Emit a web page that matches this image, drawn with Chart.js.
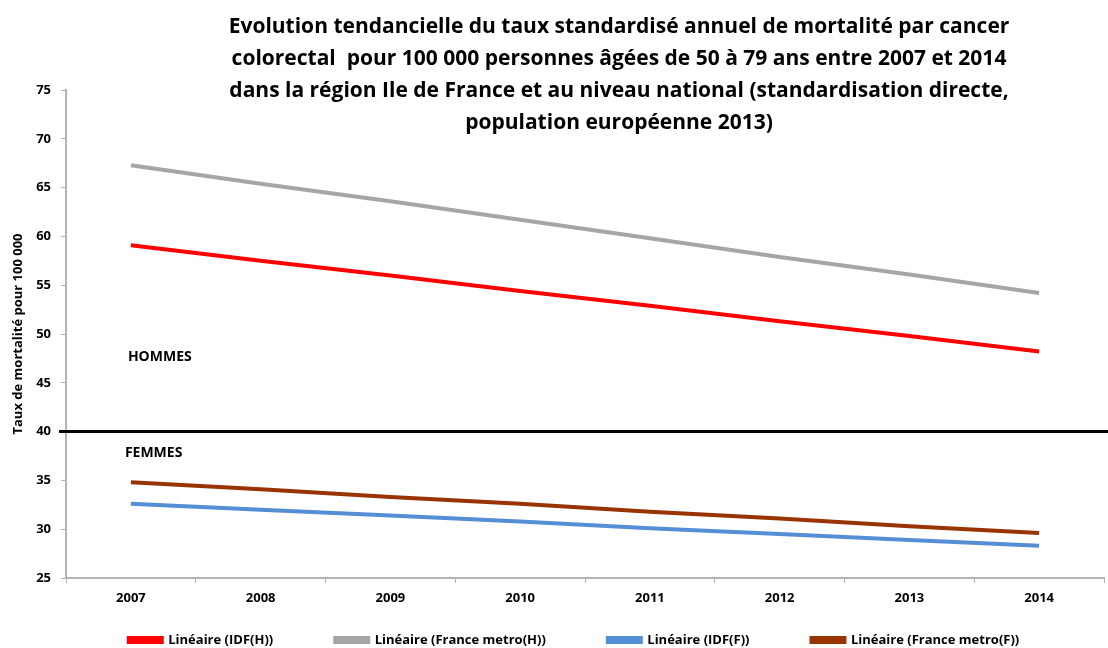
<!DOCTYPE html>
<html>
<head>
<meta charset="utf-8">
<script src="https://cdn.jsdelivr.net/npm/chart.js@4/dist/chart.umd.min.js"></script>
<style>
  html, body { margin: 0; padding: 0; background: #fff; }
  #wrap { width: 1108px; height: 648px; position: relative; }
</style>
</head>
<body>
<div id="wrap"><canvas id="c" width="1108" height="648"></canvas></div>
<script>
// data (linear trend lines)
const years = ['2007', '2008', '2009', '2010', '2011', '2012', '2013', '2014'];
const idfH = [59.1, 57.5, 56.0, 54.4, 52.9, 51.3, 49.8, 48.2];
const franceH = [67.3, 65.4, 63.6, 61.7, 59.8, 57.9, 56.1, 54.2];
const idfF = [32.6, 32.0, 31.4, 30.8, 30.1, 29.5, 28.9, 28.3];
const franceF = [34.8, 34.1, 33.3, 32.6, 31.8, 31.1, 30.3, 29.6];
const seriesNames = ['Linéaire (IDF(H))', 'Linéaire (France metro(H))', 'Linéaire (IDF(F))', 'Linéaire (France metro(F))'];
const separator = 40;

const titleLines = [
  'Evolution tendancielle du taux standardisé annuel de mortalité par cancer',
  'colorectal  pour 100 000 personnes âgées de 50 à 79 ans entre 2007 et 2014',
  'dans la région Ile de France et au niveau national (standardisation directe,',
  'population européenne 2013)'
];

const FONT = '"Open Sans", sans-serif';
const LEGEND_GAP = 62;

// legend sits lower than the layout would put it (big item gap also pads it vertically)
const legendShift = {
  id: 'legendShift',
  afterLayout(chart) {
    const lg = chart.legend;
    lg.top = 640 - LEGEND_GAP - 13 / 2;
    lg.bottom = chart.height;
    lg.height = lg.bottom - lg.top;
    lg.left += 22;
    lg.right += 22;
  }
};

// title, separator line and group labels
const extras = {
  id: 'extras',
  afterDraw(chart) {
    const ctx = chart.ctx;
    const y = chart.scales.y;
    const x = chart.scales.x;
    ctx.save();
    // black line at 40
    const py = y.getPixelForValue(separator);
    ctx.strokeStyle = '#000';
    ctx.lineWidth = 3;
    ctx.beginPath();
    ctx.moveTo(y.right - 7, py);
    ctx.lineTo(chart.width, py);
    ctx.stroke();

    ctx.fillStyle = '#000';
    ctx.font = 'bold 14px ' + FONT;
    ctx.textBaseline = 'middle';
    ctx.textAlign = 'left';
    const x0 = x.getPixelForValue(0);
    ctx.fillText('HOMMES', x0 - 3, y.getPixelForValue(47.6));
    ctx.fillText('FEMMES', x0 - 6, y.getPixelForValue(37.8));

    // title
    ctx.font = 'bold 21px ' + FONT;
    ctx.textAlign = 'center';
    titleLines.forEach((t, i) => ctx.fillText(t, 619, 27 + i * 32));
    ctx.restore();
  }
};

const mk = (label, data, color) => ({
  label: label,
  data: data,
  borderColor: color,
  backgroundColor: color,
  borderWidth: 4,
  pointRadius: 0,
  tension: 0
});

new Chart(document.getElementById('c'), {
  type: 'line',
  data: {
    labels: years,
    datasets: [
      mk(seriesNames[0], idfH, '#ff0000'),
      mk(seriesNames[1], franceH, '#a6a6a6'),
      mk(seriesNames[2], idfF, '#558ed5'),
      mk(seriesNames[3], franceF, '#993300')
    ]
  },
  options: {
    responsive: false,
    animation: false,
    layout: { padding: { top: 90, right: 4, left: 0, bottom: 0 } },
    plugins: {
      title: { display: false },
      tooltip: { enabled: false },
      legend: {
        position: 'bottom',
        maxHeight: 2,
        labels: {
          boxWidth: 33,
          boxHeight: 4,
          padding: LEGEND_GAP,
          color: '#000',
          font: { family: FONT, weight: 'bold', size: 13 }
        }
      }
    },
    scales: {
      x: {
        offset: true,
        grid: { offset: true, drawOnChartArea: false, color: '#b3b3b3', tickLength: 5 },
        border: { color: '#b3b3b3', width: 2 },
        ticks: { color: '#000', font: { family: FONT, weight: 'bold', size: 13 }, padding: 7, maxRotation: 0 },
        afterFit: s => { s.height = 68; }
      },
      y: {
        min: 25,
        max: 75,
        ticks: { stepSize: 5, color: '#000', font: { family: FONT, weight: 'bold', size: 13 }, padding: 10 },
        grid: { drawOnChartArea: false, color: '#b3b3b3', tickLength: 5 },
        border: { color: '#b3b3b3', width: 2 },
        title: {
          display: true,
          text: 'Taux de mortalité pour 100 000',
          color: '#000',
          font: { family: FONT, weight: 'bold', size: 13 },
          padding: { top: 10, bottom: 0 }
        },
        afterFit: s => { s.width = 66; }
      }
    }
  },
  plugins: [legendShift, extras]
});
</script>
</body>
</html>
